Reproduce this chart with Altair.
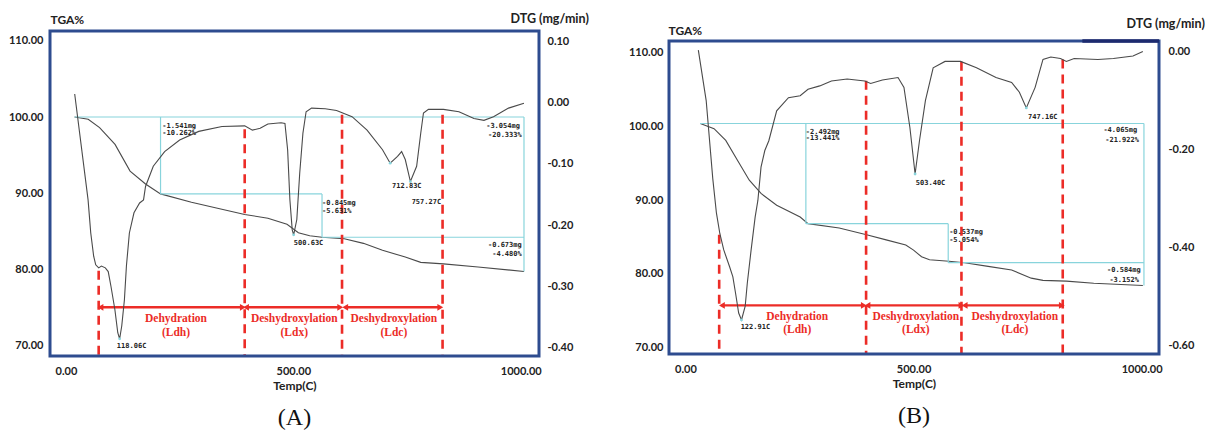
import altair as alt
import pandas as pd

X_TICKS = [0, 500, 1000]
TGA_TICKS = [70, 80, 90, 100, 110]

# ---------------- Panel A ----------------
A_X_DOM = [-35, 1040]
A_TGA_T = [19, 49, 74, 108, 141, 175, 208, 276, 326, 393, 444, 486, 511, 536, 563, 612, 654, 696, 746, 780, 830, 906, 1007]
A_TGA_V = [100.0, 99.7, 98.6, 96.4, 92.9, 91.2, 89.9, 88.8, 88.1, 87.2, 86.7, 85.9, 84.8, 84.4, 84.2, 84.0, 83.4, 82.5, 81.6, 80.9, 80.7, 80.3, 79.7]
A_DTG_T = [19.3, 48.7, 54.6, 61, 65.5, 72, 78, 86.6, 93, 99, 107.6, 114, 118.06, 122.7, 128.6, 133, 139.5, 149.6, 162, 170.6,
           175, 192, 217, 250, 292, 343, 393, 410, 427, 444, 473, 481.5, 487.4, 492.4, 497.5, 500.63, 507.6, 514, 521, 528,
           540, 570, 595, 629, 662, 696, 712.83, 729, 738, 746, 757.27, 771, 780, 786, 797, 830, 864, 897, 919, 940, 973, 1007]
A_DTG_V = [0.014, -0.159, -0.213, -0.251, -0.265, -0.27, -0.267, -0.27, -0.276, -0.30, -0.338, -0.376, -0.386, -0.365, -0.322, -0.267, -0.213, -0.18, -0.164, -0.159,
           -0.137, -0.104, -0.08, -0.061, -0.047, -0.039, -0.038, -0.045, -0.042, -0.035, -0.033, -0.034, -0.077, -0.159, -0.208, -0.216, -0.191, -0.115, -0.05, -0.015,
           -0.009, -0.01, -0.013, -0.023, -0.045, -0.077, -0.099, -0.088, -0.08, -0.093, -0.129, -0.104, -0.05, -0.017, -0.011, -0.011, -0.015, -0.026, -0.029, -0.023, -0.009, -0.001]
A_PEAK_T = [118.06, 500.63, 712.83, 757.27]
A_PEAK_V = [-0.386, -0.216, -0.099, -0.129]
A_CYAN_X1 = [19, 1007, 208, 208, 563, 563]
A_CYAN_X2 = [1007, 1007, 208, 563, 563, 1007]
A_CYAN_Y1 = [100, 100, 100, 89.9, 89.9, 84.2]
A_CYAN_Y2 = [100, 79.7, 89.9, 89.9, 84.2, 84.2]
A_DASH_X = [72, 393, 607, 828]
A_DASH_TOP = [79.8, 98.4, 100.3, 100.3]
A_ARROW_X1 = [76, 396, 614]
A_ARROW_X2 = [389, 603, 823]
A_ARROW_Y = 75.0
A_LAB_X = [242, 502, 721]
A_LAB_Y = [73.45, 71.6]
A_NOTE_L_T = ["-1.541mg", "-10.262%", "-0.845mg", "-5.631%", "118.06C", "500.63C", "712.83C", "757.27C"]
A_NOTE_L_X = [212, 212, 563, 563, 112, 501, 717, 760]
A_NOTE_L_Y = [98.8, 97.95, 88.65, 87.7, 69.9, 83.4, 91.0, 88.8]
A_NOTE_R_T = ["-3.054mg", "-20.333%", "-0.673mg", "-4.480%"]
A_NOTE_R_X = [998, 1002, 1002, 1002]
A_NOTE_R_Y = [98.8, 97.7, 83.2, 82.0]
A_TGA_DOM = [68.6, 111.3]
A_DTG_DOM = [-0.414, 0.117]
A_FRAME_Y = [68.6, 111.3]
A_DTG_TICKS = [0.1, 0.0, -0.1, -0.2, -0.3, -0.4]

# ---------------- Panel B ----------------
B_X_DOM = [-36, 1038]
B_TGA_T = [32.6, 62.7, 88.4, 114, 140, 165.7, 200, 251.5, 268.7, 337, 397, 440, 483, 500, 517.6, 535, 577.7, 612, 663.5, 715, 758, 783.7, 835, 895, 1002.6]
B_TGA_V = [100.4, 99.7, 98.1, 95.4, 92.7, 90.9, 89.3, 87.7, 86.8, 86.2, 85.3, 84.6, 83.9, 83.2, 82.3, 81.9, 81.7, 81.5, 81.0, 80.5, 79.4, 79.1, 79.0, 78.7, 78.4]
B_DTG_T = [28.3, 45.5, 60, 68, 75.5, 84, 97, 104, 110, 116.7, 122.91, 131, 135.6, 144, 152.8, 158.8, 165.7, 174, 182.8, 200,
           225.8, 251.5, 268.7, 294.4, 320, 354.5, 393, 406, 431.8, 466, 479, 492, 503.4, 513, 526, 543, 569, 603, 638, 680.7,
           715, 732, 747.16, 766.5, 783.7, 800.9, 822, 835, 852, 904, 938, 981, 1002.6]
B_DTG_V = [0.003, -0.10, -0.26, -0.33, -0.372, -0.405, -0.44, -0.46, -0.494, -0.534, -0.548, -0.52, -0.473, -0.405, -0.338, -0.304, -0.236, -0.202, -0.182, -0.121,
           -0.094, -0.09, -0.077, -0.07, -0.06, -0.056, -0.06, -0.065, -0.058, -0.053, -0.073, -0.155, -0.25, -0.182, -0.10, -0.033, -0.02, -0.02, -0.033, -0.053,
           -0.063, -0.083, -0.115, -0.073, -0.016, -0.011, -0.014, -0.02, -0.014, -0.016, -0.014, -0.009, 0.0]
B_PEAK_T = [122.91, 503.40, 747.16]
B_PEAK_V = [-0.548, -0.25, -0.115]
B_CYAN_X1 = [32, 1005, 264, 264, 576, 576]
B_CYAN_X2 = [1005, 1005, 264, 576, 576, 1005]
B_CYAN_Y1 = [100.4, 100.4, 100.4, 86.8, 86.8, 81.5]
B_CYAN_Y2 = [100.4, 78.4, 86.8, 86.8, 81.5, 81.5]
B_DASH_X = [74, 396, 605, 827]
B_DASH_TOP = [85.3, 106.2, 108.8, 109.1]
B_ARROW_X1 = [80, 399, 612]
B_ARROW_X2 = [391, 605, 825]
B_ARROW_Y = 75.7
B_LAB_X = [245, 505, 722]
B_LAB_Y = [74.15, 72.35]
B_NOTE_L_T = ["-2.492mg", "-13.441%", "-0.537mg", "-5.054%", "122.91C", "503.40C", "747.16C"]
B_NOTE_L_X = [264, 264, 578, 578, 121, 505, 751]
B_NOTE_L_Y = [99.3, 98.4, 85.6, 84.6, 72.7, 92.3, 101.3]
B_NOTE_R_T = ["-4.065mg", "-21.922%", "-0.584mg", "-3.152%"]
B_NOTE_R_X = [990, 994, 998, 994]
B_NOTE_R_Y = [99.5, 98.1, 80.5, 79.2]
B_TGA_DOM = [69.1, 112.96]
B_DTG_DOM = [-0.6176, 0.0421]
B_FRAME_Y = [69.1, 111.6]
B_DTG_TICKS = [0.0, -0.2, -0.4, -0.6]

LAB_TOP = ["Dehydration", "Deshydroxylation", "Deshydroxylation"]
LAB_BOT_A = ["(Ldh)", "(Ldx)", "(Ldc)"]
LAB_BOT_B = ["(Ldh)", "(Ldx)", "(Ldc)"]

FONT = "Lato"
NAVY = "#2E4C8F"
RED = "#EC2C27"
CYAN = "#88D4DC"
CURVE = "#4A4A4A"
LABEL_EXPR = "(datum.value < 0 ? '-' : '') + format(abs(datum.value), '.2f')"


def panel(p):
    xs = alt.Scale(domain=p["x_dom"], nice=False, zero=False)
    ys = alt.Scale(domain=p["tga_dom"], nice=False, zero=False)
    ds = alt.Scale(domain=p["dtg_dom"], nice=False, zero=False)
    xaxis = alt.Axis(values=X_TICKS, labelExpr=LABEL_EXPR, title="Temp(C)", domain=False, ticks=False, grid=False,
                     labelFont=FONT, labelFontSize=11, labelFontWeight="bold", labelColor="#222",
                     labelPadding=9, titleFont=FONT, titleFontSize=12, titleFontWeight="bold", titleColor="#222",
                     titlePadding=4)
    taxis = alt.Axis(values=TGA_TICKS, labelExpr=LABEL_EXPR, title="TGA%", orient="left", domain=False, ticks=False,
                     grid=False, labelFont=FONT, labelFontSize=11, labelFontWeight="bold", labelColor="#222",
                     labelPadding=p["lpad"], titleFont=FONT, titleFontSize=12, titleFontWeight="bold", titleColor="#222",
                     titleAngle=0, titleAlign="left", titleBaseline="alphabetic", titleX=p["tga_tx"], titleY=p["tga_ty"])
    daxis = alt.Axis(values=p["dtg_ticks"], labelExpr=LABEL_EXPR, title="DTG (mg/min)", orient="right", domain=False,
                     ticks=False, grid=False, labelFont=FONT, labelFontSize=11, labelFontWeight="bold", labelColor="#222",
                     labelPadding=p["rpad"], titleFont=FONT, titleFontSize=12.5, titleFontWeight="bold", titleColor="#222",
                     titleAngle=0, titleAlign="left", titleBaseline="alphabetic", titleX=p["dtg_tx"], titleY=p["dtg_ty"])

    def X(f):
        return alt.X(f, scale=xs, axis=xaxis)

    def Y(f):
        return alt.Y(f, scale=ys, axis=taxis)

    def D(f):
        return alt.Y(f, scale=ds, axis=daxis)

    tga = alt.Chart(pd.DataFrame({"t": p["tga_t"], "v": p["tga_v"]})).mark_line(
        color=CURVE, strokeWidth=1.1).encode(x=X("t:Q"), y=Y("v:Q"), order="t:Q")

    cyan = alt.Chart(pd.DataFrame({"x1": p["cx1"], "x2": p["cx2"], "y1": p["cy1"], "y2": p["cy2"]})).mark_rule(
        color=CYAN, strokeWidth=1.2).encode(x=X("x1:Q"), x2="x2:Q", y=Y("y1:Q"), y2="y2:Q")

    dashes = alt.Chart(pd.DataFrame({"x": p["dash_x"], "top": p["dash_top"],
                                     "bot": [p["frame_y"][0]] * len(p["dash_x"])})).mark_rule(
        color=RED, strokeWidth=2.6, strokeDash=[9, 6]).encode(x=X("x:Q"), y=Y("top:Q"), y2="bot:Q")

    adf = pd.DataFrame({"x1": p["ax1"], "x2": p["ax2"], "y": [p["ay"]] * len(p["ax1"])})
    arrows = alt.Chart(adf).mark_rule(color=RED, strokeWidth=2.4).encode(x=X("x1:Q"), x2="x2:Q", y=Y("y:Q"))
    head_l = alt.Chart(adf).mark_point(shape="triangle-left", filled=True, size=45, color=RED, opacity=1).encode(
        x=X("x1:Q"), y=Y("y:Q"))
    head_r = alt.Chart(adf).mark_point(shape="triangle-right", filled=True, size=45, color=RED, opacity=1).encode(
        x=X("x2:Q"), y=Y("y:Q"))

    ldf = pd.DataFrame({"x": p["lab_x"] * 2, "y": [p["lab_y"][0]] * 3 + [p["lab_y"][1]] * 3,
                        "s": LAB_TOP + p["lab_bot"]})
    labels = alt.Chart(ldf).mark_text(font="Liberation Serif", fontSize=11.5, fontWeight="bold", color=RED,
                                      baseline="middle", align="center").encode(x=X("x:Q"), y=Y("y:Q"), text="s:N")

    notes_l = alt.Chart(pd.DataFrame({"x": p["nlx"], "y": p["nly"], "s": p["nlt"]})).mark_text(
        font="DejaVu Sans Mono", fontSize=7, fontWeight="bold", color="#222", baseline="middle", align="left").encode(
        x=X("x:Q"), y=Y("y:Q"), text="s:N")
    notes_r = alt.Chart(pd.DataFrame({"x": p["nrx"], "y": p["nry"], "s": p["nrt"]})).mark_text(
        font="DejaVu Sans Mono", fontSize=7, fontWeight="bold", color="#222", baseline="middle", align="right").encode(
        x=X("x:Q"), y=Y("y:Q"), text="s:N")

    frame = alt.Chart(pd.DataFrame({"x1": [p["x_dom"][0]], "x2": [p["x_dom"][1]],
                                    "y1": [p["frame_y"][0]], "y2": [p["frame_y"][1]]})).mark_rect(
        fillOpacity=0, stroke=NAVY, strokeWidth=3).encode(x=X("x1:Q"), x2="x2:Q", y=Y("y1:Q"), y2="y2:Q")

    parts = [tga, cyan, dashes, arrows, head_l, head_r, labels, notes_l, notes_r, frame]
    if p.get("dark_top"):
        dk = alt.Chart(pd.DataFrame({"x1": [p["dark_top"][0]], "x2": [p["dark_top"][1]],
                                     "y": [p["frame_y"][1]]})).mark_rule(color="#1C2A6E", strokeWidth=3.5).encode(
            x=X("x1:Q"), x2="x2:Q", y=Y("y:Q"))
        parts.append(dk)
    tga_group = alt.layer(*parts)

    dtg = alt.Chart(pd.DataFrame({"t": p["dtg_t"], "v": p["dtg_v"]})).mark_line(
        color=CURVE, strokeWidth=1.1).encode(x=X("t:Q"), y=D("v:Q"), order="t:Q")
    peaks = alt.Chart(pd.DataFrame({"t": p["peak_t"], "v": p["peak_v"]})).mark_point(
        filled=True, size=8, color=CYAN, opacity=1).encode(x=X("t:Q"), y=D("v:Q"))
    dtg_group = alt.layer(dtg, peaks)

    return alt.layer(tga_group, dtg_group).resolve_scale(y="independent").properties(
        width=p["w"], height=p["h"],
        title=alt.TitleParams(p["letter"], orient="bottom", font="Liberation Serif", fontSize=24,
                              fontWeight="normal", color="#111", offset=15, frame="group", anchor="middle"))


pa = dict(x_dom=A_X_DOM, tga_t=A_TGA_T, tga_v=A_TGA_V, dtg_t=A_DTG_T, dtg_v=A_DTG_V, peak_t=A_PEAK_T, peak_v=A_PEAK_V,
          cx1=A_CYAN_X1, cx2=A_CYAN_X2, cy1=A_CYAN_Y1, cy2=A_CYAN_Y2, dash_x=A_DASH_X, dash_top=A_DASH_TOP,
          ax1=A_ARROW_X1, ax2=A_ARROW_X2, ay=A_ARROW_Y, lab_x=A_LAB_X, lab_y=A_LAB_Y, lab_bot=LAB_BOT_A,
          nlt=A_NOTE_L_T, nlx=A_NOTE_L_X, nly=A_NOTE_L_Y, nrt=A_NOTE_R_T, nrx=A_NOTE_R_X, nry=A_NOTE_R_Y,
          tga_dom=A_TGA_DOM, dtg_dom=A_DTG_DOM, frame_y=A_FRAME_Y, dtg_ticks=A_DTG_TICKS,
          tga_tx=0, tga_ty=-8, dtg_tx=-29, dtg_ty=-9, lpad=7, rpad=8, w=489, h=325, letter="(A)")
pb = dict(x_dom=B_X_DOM, tga_t=B_TGA_T, tga_v=B_TGA_V, dtg_t=B_DTG_T, dtg_v=B_DTG_V, peak_t=B_PEAK_T, peak_v=B_PEAK_V,
          cx1=B_CYAN_X1, cx2=B_CYAN_X2, cy1=B_CYAN_Y1, cy2=B_CYAN_Y2, dash_x=B_DASH_X, dash_top=B_DASH_TOP,
          ax1=B_ARROW_X1, ax2=B_ARROW_X2, ay=B_ARROW_Y, lab_x=B_LAB_X, lab_y=B_LAB_Y, lab_bot=LAB_BOT_B,
          nlt=B_NOTE_L_T, nlx=B_NOTE_L_X, nly=B_NOTE_L_Y, nrt=B_NOTE_R_T, nrx=B_NOTE_R_X, nry=B_NOTE_R_Y,
          tga_dom=B_TGA_DOM, dtg_dom=B_DTG_DOM, frame_y=B_FRAME_Y, dtg_ticks=B_DTG_TICKS,
          tga_tx=-1, tga_ty=3, dtg_tx=-33, dtg_ty=-4, lpad=6, rpad=9, w=490, h=323, letter="(B)", dark_top=[870, 1038])

chart = alt.hconcat(panel(pa), panel(pb), spacing=39).configure_view(stroke=None).properties(
    padding={"left": 0, "top": 4, "right": 0, "bottom": 5})

chart.save("out.html", embed_options={"renderer": "svg", "actions": False})
